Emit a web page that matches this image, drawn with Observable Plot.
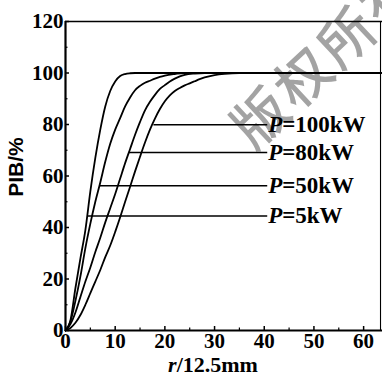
<!DOCTYPE html>
<html><head><meta charset="utf-8">
<script src="https://cdn.jsdelivr.net/npm/d3@7"></script>
<script src="https://cdn.jsdelivr.net/npm/@observablehq/plot@0.6"></script>
<style>body{margin:0;background:#fff}</style>
</head><body><div id="chart"></div>
<script>
// ---- data ----
const seriesNames = ["P=5kW", "P=50kW", "P=80kW", "P=100kW"];
const r5   = [0,1,2,3,4,5,6,7,8,9,10,11,12,13,14,20,30,40,50,63.8];
const v5   = [0,4,16.5,28,39,54,67,78,87,93,96.7,98.8,99.6,99.9,100,100,100,100,100,100];
const r50  = [0,1,2,3,4,5,6,7,8,9,10,11,12,13,14,15,16,17,18,19,20,22,24,30,40,50,63.8];
const v50  = [0,3.5,11.5,21,32,41.5,50,57.5,65.5,72.5,78,82.5,87,90.5,93.3,95,96.2,97,97.8,98.5,99,99.6,100,100,100,100,100];
const r80  = [0,1,2,3,4,5,6,7,8,9,10,11,12,13,14,15,16,17,18,19,20,21,22,23,24,26,28,35,45,55,63.8];
const v80  = [0,2.5,7,13,19,24.5,30.5,36,42,47.5,53,59,65,70.5,76,81,85.5,88.8,91.5,93.8,95.3,96.7,97.8,98.7,99.3,99.8,100,100,100,100,100];
const r100 = [0,1,2,3,4,5,6,7,8,9,10,11,12,13,14,15,16,17,18,19,20,21,22,23,24,25,26,27,28,30,32,35,45,55,63.8];
const v100 = [0,1,3,6,10,14.5,19,23.5,28.5,33,38.3,44,50,55.8,61.8,67.5,73,78,82.3,86,89,91.3,93,94.2,95.2,96,96.8,97.6,98.3,99.2,99.7,100,100,100,100];

const leaderY    = [44.5, 56.2, 69.1, 79.9];
const leaderFrom = [4.5, 6.9, 12.7, 17.7];
const leaderTo   = 40.6;

const xTicks = [0,10,20,30,40,50,60];
const xMinor = [5,15,25,35,45,55];
const yTicks = [0,20,40,60,80,100,120];
const yMinor = [10,30,50,70,90,110];

// ---- build tables ----
const rs = [r5, r50, r80, r100], vs = [v5, v50, v80, v100];
const curves = [];
seriesNames.forEach((s, i) => rs[i].forEach((r, j) => curves.push({series: s, r, v: vs[i][j]})));
const leaders = seriesNames.map((s, i) => ({name: s.slice(1), x1: leaderFrom[i], x2: leaderTo, y: leaderY[i]}));

const W = 382, H = 377, mL = 65, mR = 0, mT = 21, mB = 47;
const xMax = 63.8, yMax = 120;
const tickY = 4 * yMax / (H - mT - mB);
const tickYm = 2.5 * yMax / (H - mT - mB);
const tickX = 4 * xMax / (W - mL - mR);
const tickXm = 2.5 * xMax / (W - mL - mR);

const serif = "'Liberation Serif', 'Times New Roman', serif";

const plot = Plot.plot({
  width: W, height: H,
  marginLeft: mL, marginRight: mR, marginTop: mT, marginBottom: mB,
  x: {domain: [0, xMax]},
  y: {domain: [0, yMax]},
  style: {fontFamily: serif, fontWeight: "bold", fontSize: "21px", color: "#000", background: "#fff", overflow: "visible"},
  marks: [
    Plot.axisX({ticks: xTicks, tickSize: 0, tickPadding: 3, label: null, fontSize: 21, fontWeight: "bold"}),
    Plot.axisY({ticks: yTicks, tickSize: 0, tickPadding: 2, label: null, fontSize: 21, fontWeight: "bold"}),
    Plot.ruleX(xTicks, {y1: 0, y2: tickY, strokeWidth: 1.5}),
    Plot.ruleX(xMinor, {y1: 0, y2: tickYm, strokeWidth: 1.2}),
    Plot.ruleY(yTicks, {x1: 0, x2: tickX, strokeWidth: 1.5}),
    Plot.ruleY(yMinor, {x1: 0, x2: tickXm, strokeWidth: 1.2}),
    Plot.ruleY([yMax], {strokeWidth: 1.6}),
    Plot.ruleX([63.4], {strokeWidth: 1.1}),
    Plot.ruleX([0], {strokeWidth: 2.2}),
    Plot.ruleY([0], {strokeWidth: 2.2}),
    Plot.line(curves, {x: "r", y: "v", z: "series", curve: "monotone-x", stroke: "#000", strokeWidth: 1.8}),
    Plot.link(leaders, {x1: "x1", x2: "x2", y1: "y", y2: "y", stroke: "#000", strokeWidth: 1.5}),
    Plot.text(leaders, {x: "x2", y: "y", text: () => "P", fontStyle: "italic", fontWeight: "bold", fontSize: 23, textAnchor: "start", dx: 1, fontFamily: serif}),
    Plot.text(leaders, {x: "x2", y: "y", text: "name", fontWeight: "bold", fontSize: 23, textAnchor: "start", dx: 15, fontFamily: serif})
  ]
});

const svg = d3.select(plot);
// watermark (behind everything)
svg.insert("text", "g")
  .attr("transform", "translate(330,60) rotate(-43)")
  .attr("text-anchor", "middle").attr("dominant-baseline", "middle")
  .attr("font-family", "'Noto Sans CJK SC', sans-serif")
  .attr("font-weight", 500).attr("font-size", 55)
  .attr("letter-spacing", 4)
  .attr("fill", "#999").attr("fill-opacity", 0.9)
  .text("版权所有");
// axis titles
svg.append("text")
  .attr("transform", "translate(17,167) rotate(-90)")
  .attr("text-anchor", "middle").attr("dominant-baseline", "middle")
  .attr("font-family", "'Liberation Sans', Arial, sans-serif")
  .attr("font-weight", "bold").attr("font-size", 21)
  .text("PIB/%");
const xl = svg.append("text")
  .attr("x", 213).attr("y", 372)
  .attr("text-anchor", "middle")
  .attr("font-family", serif).attr("font-weight", "bold").attr("font-size", 22);
xl.append("tspan").attr("font-style", "italic").text("r");
xl.append("tspan").text("/12.5mm");

document.getElementById("chart").append(plot);
</script>
</body></html>
